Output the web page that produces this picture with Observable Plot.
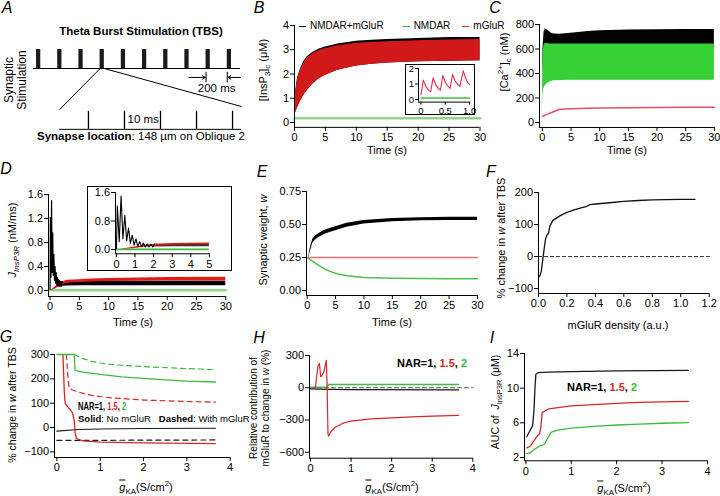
<!DOCTYPE html>
<html>
<head>
<meta charset="utf-8">
<script src="https://cdn.jsdelivr.net/npm/d3@7"></script>
<script src="https://cdn.jsdelivr.net/npm/@observablehq/plot@0.6"></script>
<style>
html,body{margin:0;padding:0;background:#fff;}
#fig{position:relative;width:720px;height:496px;overflow:hidden;background:#fff;color:#000;font-family:"Liberation Sans",Arial,Helvetica,sans-serif;}
#fig .t{position:absolute;white-space:nowrap;line-height:1;}
#fig sub,#fig sup{font-size:72%;line-height:0;}
.dash{display:inline-block;width:7px;height:1.6px;vertical-align:middle;margin-right:4px;}
.box{position:absolute;border:1px solid #000;background:#fff;box-sizing:border-box;}
</style>
</head>
<body>
<div id="fig"></div>
<script>
// ================= DATA =================
// Panel A: theta burst protocol
const burstOnsets = [0, 200, 400, 600, 800, 1000, 1200, 1400, 1600, 1800]; // ms
const burstDuration = 40; // ms
const pulseTimes = [0, 10, 20, 30, 40]; // ms within one burst
const zoomedBurst = 600; // the burst expanded below

// Panel B: [InsP3]c (uM) envelopes of the theta-burst oscillations
const bTime      = [0,   0.2,  0.5,  1,    1.5,  2,    3,    4,    5,    7,    10,   12.5, 15,   20,   25,   30];
const bRedHigh   = [0.6, 1.3,  1.8,  2.2,  2.45, 2.65, 2.85, 2.97, 3.05, 3.17, 3.27, 3.3,  3.33, 3.37, 3.4,  3.42];
const bRedLow    = [0.3, 0.42, 0.62, 0.9,  1.12, 1.3,  1.6,  1.8,  1.95, 2.15, 2.33, 2.4,  2.45, 2.5,  2.53, 2.55];
const bBlackHigh = [0.6, 1.32, 1.83, 2.24, 2.5,  2.7,  2.9,  3.03, 3.11, 3.24, 3.35, 3.39, 3.42, 3.46, 3.5,  3.5];
const bGreenTime = [0, 30];
const bGreen     = [0.17, 0.17];
const bInsetTime = [0, 0.05, 0.1, 0.15, 0.2, 0.25, 0.3, 0.35, 0.4, 0.45, 0.5, 0.55, 0.6, 0.65, 0.7, 0.75, 0.8, 0.87, 0.92, 0.96, 1.0];
const bInsetRed  = [0.3, 1.25, 0.85, 0.62, 0.5, 1.4, 0.98, 0.75, 0.6, 1.55, 1.1, 0.88, 0.72, 1.62, 1.2, 1.0, 0.85, 1.85, 1.35, 1.1, 0.95];
const bInsetGreenTime = [0, 1];
const bInsetGreen = [0.1, 0.1];
const bLegend = ["NMDAR+mGluR", "NMDAR", "mGluR"];

// Panel C: [Ca2+]c (nM)
const cTime      = [0,  0.1, 0.3, 0.5, 1,   1.5, 2,   3,   5,   8,   10,  15,  20,  25,  30];
const cBlackHigh = [50, 600, 740, 765, 752, 730, 722, 720, 728, 742, 748, 755, 758, 760, 760];
const cBlackLow  = [50, 420, 560, 590, 600, 600, 600, 600, 600, 600, 600, 600, 600, 600, 600];
const cGreenHigh = [50, 560, 635, 645, 642, 640, 640, 640, 640, 640, 640, 640, 640, 640, 640];
const cGreenLow  = [50, 250, 280, 300, 325, 335, 340, 342, 344, 345, 345, 345, 345, 345, 345];
const cRed       = [50, 52,  55,  60,  70,  80,  90,  108, 112, 116, 118, 121, 123, 124, 125];

// Panel D: J_InsP3R (nM/ms)
const dSpikeTime  = [0, 0.05, 0.15, 0.25, 0.35, 0.45, 0.55, 0.65, 0.75, 0.85, 0.95, 1.05, 1.15, 1.25, 1.35, 1.45, 1.55, 1.65, 1.75, 1.85, 1.95, 2.05];
const dSpikeBlack = [0.02, 1.22, 0.22, 1.5, 0.3, 0.96, 0.25, 0.6, 0.17, 0.4, 0.12, 0.3, 0.09, 0.22, 0.08, 0.18, 0.07, 0.16, 0.07, 0.15, 0.07, 0.15];
const dBandTime   = [2, 3, 5, 10, 20, 30];
const dBlackHigh  = [0.15, 0.145, 0.15, 0.152, 0.155, 0.155];
const dBlackLow   = [0.07, 0.075, 0.08, 0.08, 0.08, 0.08];
const dRedTime    = [0.3, 0.5, 1, 1.5, 2, 3, 4, 5, 7, 10, 15, 20, 30];
const dRedHigh    = [0.01, 0.03, 0.07, 0.11, 0.14, 0.17, 0.175, 0.18, 0.19, 0.2, 0.21, 0.215, 0.22];
const dRedLow     = [0, 0.01, 0.03, 0.06, 0.09, 0.12, 0.13, 0.135, 0.14, 0.15, 0.155, 0.16, 0.16];
const dGreenTime  = [0, 30];
const dGreen      = [0.005, 0.005];

// Panel E: synaptic weight w
const eBlackTime = [0.3, 0.5, 1, 1.5, 2, 3, 4, 5, 7, 10, 15, 20, 25, 30];
const eBlackHigh = [0.262, 0.315, 0.39, 0.415, 0.43, 0.455, 0.47, 0.483, 0.51, 0.53, 0.545, 0.552, 0.554, 0.555];
const eBlackLow  = [0.245, 0.285, 0.36, 0.385, 0.4, 0.425, 0.44, 0.453, 0.48, 0.504, 0.521, 0.528, 0.53, 0.531];
const eGreenTime = [0, 0.5, 1, 2, 3, 4, 5, 7, 10, 15, 20, 25, 30];
const eGreen     = [0.25, 0.235, 0.22, 0.19, 0.165, 0.145, 0.13, 0.112, 0.098, 0.092, 0.09, 0.089, 0.088];
const eRedTime   = [0, 30];
const eRed       = [0.25, 0.25];

// Panel F: % change in w vs mGluR density
const fDensity = [0, 0.01, 0.02, 0.03, 0.04, 0.05, 0.06, 0.07, 0.08, 0.1, 0.15, 0.2, 0.25, 0.3, 0.34, 0.36, 0.4, 0.5, 0.6, 0.7, 0.8, 0.9, 1.0, 1.1];
const fChange  = [-65, -60, -45, -10, 25, 55, 68, 72, 95, 112, 127, 138, 146, 152, 157, 162, 164, 168, 172, 175, 177, 178, 178.5, 178.5];
const fZeroX = [0, 1.2];
const fZeroY = [0, 0];

// Panel G: % change in w vs gKA
const gGreenSolidX  = [0, 0.4, 0.42, 0.6, 1, 1.5, 2, 2.5, 3, 3.66];
const gGreenSolidY  = [300, 300, 235, 228, 218, 208, 202, 196, 191, 187];
const gGreenDashedX = [0.4, 0.5, 0.6, 0.8, 1, 1.25, 1.6, 2.16, 3, 3.66];
const gGreenDashedY = [300, 292, 283, 272, 265, 259, 254, 249, 242, 238];
const gRedSolidX    = [0.14, 0.17, 0.19, 0.25, 0.3, 0.36, 0.4, 0.42, 0.45, 0.6, 1, 2, 3.66];
const gRedSolidY    = [300, 150, 100, 85, 75, 60, 30, -20, -45, -55, -60, -63, -66];
const gRedDashedX   = [0.22, 0.25, 0.28, 0.35, 0.5, 0.8, 1.25, 2, 3, 3.66];
const gRedDashedY   = [300, 220, 165, 155, 145, 132, 122, 113, 107, 104];
const gBlackSolidX  = [0, 0.5, 1, 2, 3.66];
const gBlackSolidY  = [-15, -8, -6, -4, -3];
const gBlackDashedX = [0, 3.66];
const gBlackDashedY = [-53, -51];

// Panel H: relative contribution of mGluR (%)
const hRedX   = [0.1, 0.12, 0.15, 0.19, 0.22, 0.25, 0.28, 0.33, 0.39, 0.41, 0.43, 0.45, 0.5, 0.6, 0.8, 1, 1.5, 2, 2.5, 3, 3.65];
const hRedY   = [0, 0, 100, 210, 225, 105, 110, 150, 255, 0, -430, -450, -410, -370, -330, -310, -290, -280, -272, -265, -258];
const hGreenX = [0, 0.4, 0.45, 3.65];
const hGreenY = [5, 5, 30, 30];
const hBlackX = [0, 0.5, 1, 3.65];
const hBlackY = [-10, -15, -18, -20];
const hZeroX  = [0, 4];
const hZeroY  = [0, 0];

// Panel I: AUC of J_InsP3R (uM)
const iBlackX = [0.02, 0.06, 0.1, 0.15, 0.18, 0.2, 0.22, 0.28, 0.5, 1, 2, 3.58];
const iBlackY = [4.4, 4.8, 5.2, 5.7, 7.5, 10, 11.6, 11.8, 11.85, 11.9, 12, 12.05];
const iRedX   = [0.02, 0.1, 0.15, 0.2, 0.25, 0.3, 0.33, 0.36, 0.5, 1, 1.5, 2, 2.5, 3, 3.58];
const iRedY   = [3.1, 3.3, 3.7, 4.1, 4.5, 4.7, 5.5, 7.2, 7.6, 7.95, 8.1, 8.25, 8.35, 8.42, 8.48];
const iGreenX = [0.02, 0.1, 0.2, 0.3, 0.4, 0.45, 0.5, 0.55, 0.7, 1, 1.5, 2, 2.5, 3, 3.58];
const iGreenY = [2.45, 2.55, 3.0, 3.3, 3.5, 3.9, 4.4, 4.9, 5.15, 5.4, 5.6, 5.75, 5.85, 5.95, 6.02];

// Tick labels
const timeTicks = [0, 5, 10, 15, 20, 25, 30];
const bYTicks = [0, 1, 2, 3, 4];
const bInsetXTicks = [0, 0.5, 1];
const bInsetYTicks = [0, 1, 2];
const cYTicks = [0, 200, 400, 600, 800];
const dYTicks = [0, 0.4, 0.8, 1.2, 1.6];
const dInsetXTicks = [0, 1, 2, 3, 4, 5];
const dInsetYTicks = [0, 0.8, 1.6];
const eYTicks = [0, 0.25, 0.5, 0.75];
const fXTicks = [0, 0.2, 0.4, 0.6, 0.8, 1.0, 1.2];
const fYTicks = [-100, 0, 100, 200];
const gkaTicks = [0, 1, 2, 3, 4];
const gYTicks = [-100, 0, 100, 200, 300];
const hYTicks = [-600, -300, 0, 300];
const iYTicks = [2, 6, 10, 14];

// ================= HELPERS =================
const fig = document.getElementById("fig");
const FONT = "'Liberation Sans', Arial, Helvetica, sans-serif";
const INT = d3.format("~g");
const pts = (xs, ys) => xs.map((x, i) => ({x, y: ys[i]}));
const band = (xs, lo, hi) => xs.map((x, i) => ({x, lo: lo[i], hi: hi[i]}));
function lin(ref) {
  const [[v0, p0], [v1, p1]] = ref;
  return v => p0 + (v - v0) * (p1 - p0) / (v1 - v0);
}
function panel(o) {
  const sx = lin(o.xRef), sy = lin(o.yRef);
  const fx0 = sx(o.xDomain[0]), fx1 = sx(o.xDomain[1]);
  const fyB = sy(o.yDomain[0]), fyT = sy(o.yDomain[1]);
  const ML = 40, MR = 20, MT = 10, MB = 30;
  const fs = o.fontSize || 11, ts = o.tickSize || 4;
  const marks = [...o.marks,
    Plot.ruleX([o.xDomain[0]], {stroke: "#000", strokeWidth: 1}),
    Plot.ruleY([o.yDomain[0]], {stroke: "#000", strokeWidth: 1}),
    Plot.axisX({ticks: o.xTicks, tickFormat: o.xFormat || INT, tickSize: ts, tickPadding: 2, fontSize: fs, label: null}),
    Plot.axisY({ticks: o.yTicks, tickFormat: o.yFormat || INT, tickSize: ts, tickPadding: 1.5, fontSize: fs, label: null})
  ];
  const svg = Plot.plot({
    width: fx1 - fx0 + ML + MR, height: fyB - fyT + MT + MB,
    marginLeft: ML, marginRight: MR, marginTop: MT, marginBottom: MB,
    x: {domain: o.xDomain, label: null}, y: {domain: o.yDomain, label: null},
    style: {background: "transparent", overflow: "visible", fontFamily: FONT, fontSize: fs + "px", color: "#000"},
    marks
  });
  svg.style.position = "absolute";
  svg.style.left = (fx0 - ML) + "px";
  svg.style.top = (fyT - MT) + "px";
  fig.appendChild(svg);
}
function txt(html, x, y, o = {}) {
  const d = document.createElement("div");
  d.className = "t";
  d.innerHTML = html;
  d.style.fontSize = (o.size || 11) + "px";
  if (o.bold) d.style.fontWeight = "bold";
  if (o.italic) d.style.fontStyle = "italic";
  if (o.lh) d.style.lineHeight = o.lh;
  if (o.align) d.style.textAlign = o.align;
  d.style.left = x + "px";
  d.style.top = y + "px";
  let tf = o.anchor === "left" ? "translate(0,-50%)" : "translate(-50%,-50%)";
  if (o.rot) tf += ` rotate(${o.rot}deg)`;
  if (o.sx) tf += ` scaleX(${o.sx})`;
  d.style.transform = tf;
  d.style.transformOrigin = o.anchor === "left" ? "left center" : "center center";
  fig.appendChild(d);
}
function box(x, y, w, h) {
  const d = document.createElement("div");
  d.className = "box";
  Object.assign(d.style, {left: x + "px", top: y + "px", width: w + "px", height: h + "px"});
  fig.appendChild(d);
}
const gbar = `<span style="text-decoration:overline"><i>g</i></span><sub>KA</sub>(S/cm<sup>2</sup>)`;
const nar = `NAR=1, <span style="color:#d7262b">1.5</span>, <span style="color:#3dbb3d">2</span>`;

// ================= PANEL A =================
const zoomStart = 490, zoomScale = 34; // lower (expanded) train drawn on the upper time axis
const zoomX = t => zoomStart + zoomScale * t;
{
  const svg = Plot.plot({
    width: 240, height: 125, marginLeft: 0, marginRight: 0, marginTop: 0, marginBottom: 0,
    x: {domain: [-340, 1925], axis: null}, y: {domain: [-4.05, 2.526], axis: null},
    style: {background: "transparent", overflow: "visible", fontFamily: FONT, fontSize: "11.5px", color: "#000"},
    marks: [
      Plot.ruleY([0], {x1: -30, x2: 1925, stroke: "#000"}),
      Plot.rect(burstOnsets, {x1: d => d, x2: d => d + burstDuration, y1: 0, y2: 1, fill: "#1b1b1b"}),
      Plot.ruleX([burstOnsets[8], burstOnsets[9]], {y1: -0.2, y2: -0.75, stroke: "#000"}),
      Plot.arrow([{a: 1440, b: 1594}, {a: 1925, b: 1806}], {x1: "a", x2: "b", y1: -0.47, y2: -0.47, headLength: 5, strokeWidth: 1, stroke: "#000"}),
      Plot.text(["200 ms"], {x: (burstOnsets[8] + burstOnsets[9]) / 2, y: -1.05, fontSize: 11.5}),
      Plot.link([{a: zoomedBurst, b: zoomX(-8), c: -2.16}, {a: zoomedBurst + burstDuration, b: zoomX(42.5), c: -2.0}],
        {x1: "a", x2: "b", y1: 0, y2: "c", stroke: "#000", strokeWidth: 1}),
      Plot.ruleY([-3.2], {x1: zoomX(-8), x2: zoomX(42.5), stroke: "#000"}),
      Plot.ruleX(pulseTimes, {x: zoomX, y1: -3.2, y2: -2.25, stroke: "#000", strokeWidth: 1.3}),
      Plot.text(["10 ms"], {x: zoomX(15.2), y: -2.68, fontSize: 11.5})
    ]
  });
  svg.style.position = "absolute"; svg.style.left = "0px"; svg.style.top = "20px";
  fig.appendChild(svg);
}
txt("Theta Burst Stimulation (TBS)", 141, 32, {size: 11.5, bold: true});
txt("Synaptic<br>Stimulation", 16, 80, {size: 12, rot: -90, lh: "1.05", align: "center"});
txt("<b>Synapse location</b>: 148 µm on Oblique 2", 37, 137, {size: 11.5, anchor: "left"});

// ================= PANEL B =================
panel({
  xRef: [[0, 294], [30, 479.5]], yRef: [[0, 122], [4, 25]],
  xDomain: [0, 30], yDomain: [-0.2, 4],
  xTicks: timeTicks, yTicks: bYTicks,
  marks: [
    Plot.areaY(band(bTime, bRedLow, bBlackHigh), {x: "x", y1: "lo", y2: "hi", fill: "#000"}),
    Plot.areaY(band(bTime, bRedLow, bRedHigh), {x: "x", y1: "lo", y2: "hi", fill: "#d11919"}),
    Plot.line(pts(bGreenTime, bGreen), {x: "x", y: "y", stroke: "#8fd785", strokeWidth: 2.5})
  ]
});
box(405, 64, 70, 51);
panel({
  xRef: [[0, 420], [1, 468.7]], yRef: [[0, 99], [2, 68]],
  xDomain: [-0.05, 1], yDomain: [-0.17, 2],
  xTicks: bInsetXTicks, yTicks: bInsetYTicks, xFormat: d => d === 0 ? "0" : d3.format(".1f")(d),
  fontSize: 9.5, tickSize: 3,
  marks: [
    Plot.line(pts(bInsetGreenTime, bInsetGreen), {x: "x", y: "y", stroke: "#3dbb3d", strokeWidth: 1.5}),
    Plot.line(pts(bInsetTime, bInsetRed), {x: "x", y: "y", stroke: "#e8284a", strokeWidth: 1.1})
  ]
});
{
  const leg = `<span class="dash" style="background:#000"></span>${bLegend[0]}` +
    `<span class="dash" style="background:#3dbb3d;margin-left:19px"></span>${bLegend[1]}` +
    `<span class="dash" style="background:#e02020;margin-left:12px"></span>${bLegend[2]}`;
  txt(leg, 299, 26, {size: 10, anchor: "left"});
}
txt("[InsP<sub>3</sub>]<sub>c</sub> (μM)", 263, 70, {size: 11, rot: -90});
txt("Time (s)", 387, 150, {size: 11});

// ================= PANEL C =================
panel({
  xRef: [[0, 542], [30, 714]], yRef: [[0, 122], [800, 24]],
  xDomain: [-0.5, 30], yDomain: [-41, 800],
  xTicks: timeTicks, yTicks: cYTicks,
  marks: [
    Plot.areaY(band(cTime, cBlackLow, cBlackHigh), {x: "x", y1: "lo", y2: "hi", fill: "#000"}),
    Plot.areaY(band(cTime, cGreenLow, cGreenHigh), {x: "x", y1: "lo", y2: "hi", fill: "#37d137"}),
    Plot.line(pts(cTime, cRed), {x: "x", y: "y", stroke: "#e84c6c", strokeWidth: 1.5})
  ]
});
txt("[Ca<sup>2+</sup>]<sub>c</sub> (nM)", 504, 62, {size: 11, rot: -90});
txt("Time (s)", 627, 150, {size: 11});

// ================= PANEL D =================
panel({
  xRef: [[0, 49.3], [30, 225]], yRef: [[0, 290], [1.6, 194]],
  xDomain: [-0.27, 30], yDomain: [-0.1, 1.6],
  xTicks: timeTicks, yTicks: dYTicks, yFormat: ".1f",
  marks: [
    Plot.line(pts(dGreenTime, dGreen), {x: "x", y: "y", stroke: "#8fd785", strokeWidth: 2.5}),
    Plot.areaY(band(dBandTime, dBlackLow, dBlackHigh), {x: "x", y1: "lo", y2: "hi", fill: "#000"}),
    Plot.areaY(band(dRedTime, dRedLow, dRedHigh), {x: "x", y1: "lo", y2: "hi", fill: "#e31a1a"}),
    Plot.line(pts(dSpikeTime, dSpikeBlack), {x: "x", y: "y", stroke: "#000", strokeWidth: 1.2})
  ]
});
box(87, 186, 145, 85);
panel({
  xRef: [[0, 116], [5, 209]], yRef: [[0, 249], [1.6, 192]],
  xDomain: [-0.05, 5], yDomain: [-0.12, 1.6],
  xTicks: dInsetXTicks, yTicks: dInsetYTicks, yFormat: ".1f",
  marks: [
    Plot.line(pts(dGreenTime, dGreen), {x: "x", y: "y", stroke: "#3dbb3d", strokeWidth: 1.8, clip: true}),
    Plot.areaY(band(dBandTime, dBlackLow, dBlackHigh), {x: "x", y1: "lo", y2: "hi", fill: "#333", clip: true}),
    Plot.areaY(band(dRedTime, dRedLow, dRedHigh), {x: "x", y1: "lo", y2: "hi", fill: "#e31a1a", clip: true}),
    Plot.line(pts(dSpikeTime, dSpikeBlack), {x: "x", y: "y", stroke: "#000", strokeWidth: 1.1, clip: true})
  ]
});
txt("<i>J</i><sub><i>InsP3R</i></sub> (nM/ms)", 12, 240, {size: 11, rot: -90});
txt("Time (s)", 133, 322, {size: 11});

// ================= PANEL E =================
panel({
  xRef: [[0, 306.7], [30, 477]], yRef: [[0, 290], [0.75, 191]],
  xDomain: [-0.12, 30], yDomain: [-0.038, 0.75],
  xTicks: timeTicks, yTicks: eYTicks, yFormat: ".2f",
  marks: [
    Plot.line(pts(eRedTime, eRed), {x: "x", y: "y", stroke: "#f06b78", strokeWidth: 1.5}),
    Plot.line(pts(eGreenTime, eGreen), {x: "x", y: "y", stroke: "#4cc24c", strokeWidth: 1.5}),
    Plot.areaY(band(eBlackTime, eBlackLow, eBlackHigh), {x: "x", y1: "lo", y2: "hi", fill: "#000"})
  ]
});
txt("Synaptic weight, <i>w</i>", 263, 240, {size: 11, rot: -90});
txt("Time (s)", 392, 322, {size: 11});

// ================= PANEL F =================
panel({
  xRef: [[0, 538.3], [1.2, 709]], yRef: [[-100, 288], [200, 192]],
  xDomain: [0, 1.2], yDomain: [-115.6, 200],
  xTicks: fXTicks, yTicks: fYTicks, xFormat: ".1f",
  marks: [
    Plot.line(pts(fZeroX, fZeroY), {x: "x", y: "y", stroke: "#333", strokeWidth: 1.2, strokeDasharray: "3,3"}),
    Plot.line(pts(fDensity, fChange), {x: "x", y: "y", stroke: "#111", strokeWidth: 1.3})
  ]
});
txt("% change in <i>w</i> after TBS", 501, 238, {size: 11, rot: -90});
txt("mGluR density (a.u.)", 618, 325, {size: 11});

// ================= PANEL G =================
panel({
  xRef: [[0, 56.7], [4, 230]], yRef: [[-100, 451.7], [300, 354.3]],
  xDomain: [-0.055, 4], yDomain: [-123, 300],
  xTicks: gkaTicks, yTicks: gYTicks,
  marks: [
    Plot.line(pts(gBlackDashedX, gBlackDashedY), {x: "x", y: "y", stroke: "#1a1a1a", strokeWidth: 1.2, strokeDasharray: "5,4"}),
    Plot.line(pts(gBlackSolidX, gBlackSolidY), {x: "x", y: "y", stroke: "#1a1a1a", strokeWidth: 1.2}),
    Plot.line(pts(gRedDashedX, gRedDashedY), {x: "x", y: "y", stroke: "#d7262b", strokeWidth: 1.2, strokeDasharray: "5,4"}),
    Plot.line(pts(gRedSolidX, gRedSolidY), {x: "x", y: "y", stroke: "#d7262b", strokeWidth: 1.3}),
    Plot.line(pts(gGreenDashedX, gGreenDashedY), {x: "x", y: "y", stroke: "#3dbb3d", strokeWidth: 1.2, strokeDasharray: "5,4"}),
    Plot.line(pts(gGreenSolidX, gGreenSolidY), {x: "x", y: "y", stroke: "#3dbb3d", strokeWidth: 1.3})
  ]
});
txt(nar, 78, 406, {size: 10.5, bold: true, anchor: "left", sx: 0.72});
txt("<b>Solid</b>: No mGluR &nbsp;&nbsp;<b>Dashed</b>: With mGluR", 78, 419, {size: 9.5, anchor: "left"});
txt("% change in <i>w</i> after TBS", 12, 405, {size: 10.5, rot: -90});
txt(gbar, 146, 487, {size: 11});

// ================= PANEL H =================
panel({
  xRef: [[0, 310], [4, 472.3]], yRef: [[-600, 451.7], [300, 355]],
  xDomain: [-0.025, 4], yDomain: [-656, 300],
  xTicks: gkaTicks, yTicks: hYTicks,
  marks: [
    Plot.line(pts(hZeroX, hZeroY), {x: "x", y: "y", stroke: "#555", strokeWidth: 1.2, strokeDasharray: "4,3"}),
    Plot.line(pts(hBlackX, hBlackY), {x: "x", y: "y", stroke: "#1a1a1a", strokeWidth: 1.3}),
    Plot.line(pts(hGreenX, hGreenY), {x: "x", y: "y", stroke: "#3dbb3d", strokeWidth: 1.3}),
    Plot.line(pts(hRedX, hRedY), {x: "x", y: "y", stroke: "#d7262b", strokeWidth: 1.2})
  ]
});
txt(nar, 397, 363, {size: 11, bold: true, anchor: "left"});
txt("Relative contribution of<br>mGluR to change in <i>w</i> (%)", 259, 408, {size: 10, rot: -90, lh: "1.15", align: "center"});
txt(gbar, 392, 487, {size: 11});

// ================= PANEL I =================
panel({
  xRef: [[0, 525.7], [4, 707.3]], yRef: [[2, 456.7], [14, 352.7]],
  xDomain: [-0.03, 4], yDomain: [1.62, 14],
  xTicks: gkaTicks, yTicks: iYTicks,
  marks: [
    Plot.line(pts(iGreenX, iGreenY), {x: "x", y: "y", stroke: "#3dbb3d", strokeWidth: 1.3}),
    Plot.line(pts(iRedX, iRedY), {x: "x", y: "y", stroke: "#d7262b", strokeWidth: 1.3}),
    Plot.line(pts(iBlackX, iBlackY), {x: "x", y: "y", stroke: "#1a1a1a", strokeWidth: 1.3})
  ]
});
txt(nar, 567, 387, {size: 11, bold: true, anchor: "left"});
txt("AUC of &nbsp;<i>J</i><sub>InsP3R</sub> (μM)", 495, 402, {size: 10.5, rot: -90});
txt(gbar, 624, 488, {size: 11});

// ================= PANEL LETTERS =================
[["A", 7, 8], ["B", 259, 8], ["C", 495, 8], ["D", 6, 169], ["E", 262, 172], ["F", 491, 172],
 ["G", 6, 337], ["H", 259, 338], ["I", 492, 338]].forEach(([l, x, y]) => txt(l, x, y, {size: 16, italic: true}));
</script>
</body>
</html>
